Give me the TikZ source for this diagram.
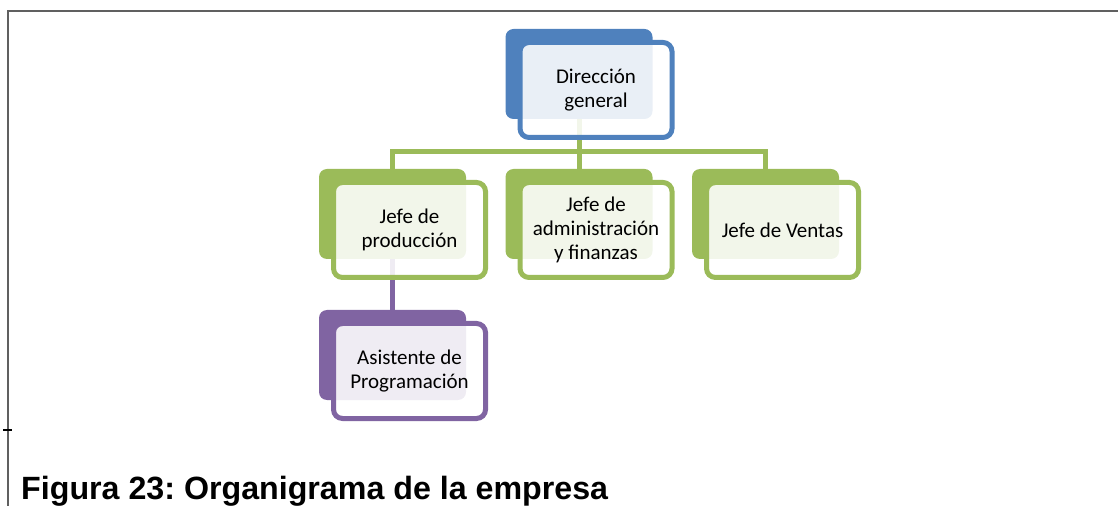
\documentclass[tikz,border=0pt]{standalone}
\usepackage{fontspec}
\setmainfont{Carlito}
\newfontfamily\capfont{Liberation Sans}
\usetikzlibrary{backgrounds}
\definecolor{orgblue}{HTML}{4F81BD}
\definecolor{orggreen}{HTML}{9BBB59}
\definecolor{orgpurple}{HTML}{8064A2}
\tikzstyle{backbox} = [rectangle, rounded corners=8pt, minimum width=147pt, minimum height=90pt, inner sep=0pt]
\tikzstyle{frontbox} = [rectangle, rounded corners=9pt, minimum width=152pt, minimum height=95pt, line width=5pt, fill=white, fill opacity=0.88, text opacity=1, draw opacity=1, align=center, font=\fontsize{21}{24}\selectfont, xshift=17pt, yshift=-16pt]
\tikzstyle{link} = [line width=5pt]

\begin{document}
\frenchspacing
\begin{tikzpicture}[x=1pt, y=1pt, node distance=140pt]
          \useasboundingbox (0,0) rectangle (1118,506);
          \node (dirb)  [backbox, fill=orgblue] at (579,432) {}; %
          \node (admb)  [backbox, fill=orggreen, below of=dirb] {}; %
          \node (prodb) [backbox, fill=orggreen, left of=admb, node distance=186.5pt] {}; %
          \node (ventb) [backbox, fill=orggreen, right of=admb, node distance=186.5pt] {}; %
          \node (asisb) [backbox, fill=orgpurple, below of=prodb, node distance=141pt] {}; %

          \node (dir)  [frontbox, draw=orgblue]   at (dirb)  {Dirección\\general}; %
          \node (adm)  [frontbox, draw=orggreen]  at (admb)  {Jefe de\\administración\\y finanzas}; %
          \node (prod) [frontbox, draw=orggreen]  at (prodb) {Jefe de\\producción}; %
          \node (vent) [frontbox, draw=orggreen]  at (ventb) {Jefe de Ventas}; %
          \node (asis) [frontbox, draw=orgpurple] at (asisb) {Asistente de\\Programación}; %

          %% Connections
          \begin{scope}[on background layer]
            \coordinate (bus) at (579,354);
            \draw [link, orggreen] (dirb.center) -- (admb.north); %
            \draw [link, orggreen] (prodb.north) -- (prodb.north |- bus) -- (ventb.north |- bus) -- (ventb.north); %
            \draw [link, orgpurple] (prodb.center) -- (asisb.north); %
          \end{scope}

          %% Frame and caption
          \coordinate (corner) at (8,495);
          \draw [gray!75!black, line width=1.5pt] (1118,495) -- (corner) -- (8,0); %
          \draw [black, line width=2pt] (3,76) -- (12,76); %
          \node (caption) [anchor=base west, inner sep=0pt, font=\capfont\bfseries\fontsize{32.2}{37}\selectfont] at (21,7) {Figura 23: Organigrama de la empresa}; %
        \end{tikzpicture}
\end{document}
